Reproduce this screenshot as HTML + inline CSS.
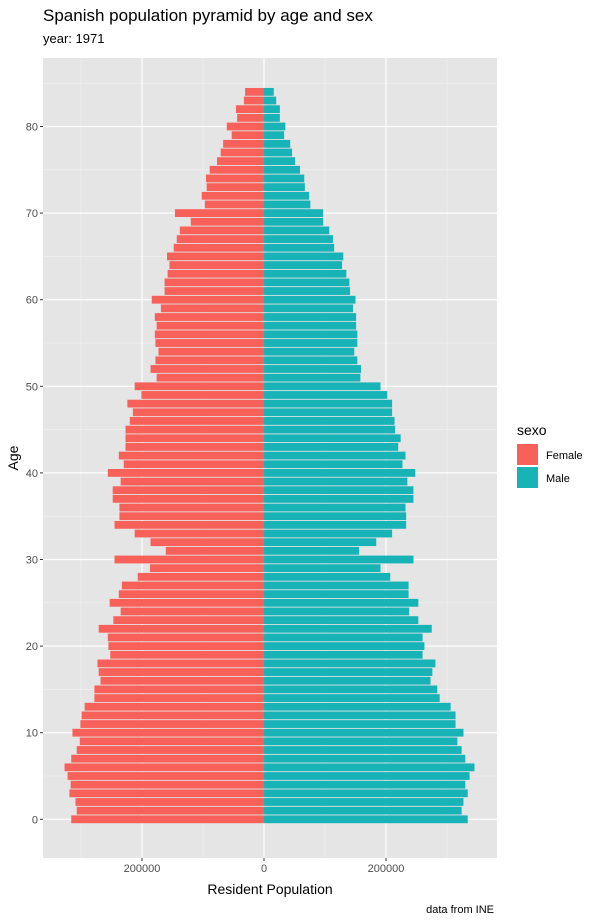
<!DOCTYPE html>
<html><head><meta charset="utf-8"><style>
body{margin:0;background:#fff;}
svg{display:block;font-family:"Liberation Sans",Arial,sans-serif;}
</style></head><body>
<svg id="chart" width="600" height="923" viewBox="0 0 600 923" xmlns="http://www.w3.org/2000/svg">
<text x="43" y="21" font-size="17" fill="#000">Spanish population pyramid by age and sex</text>
<text x="43" y="43" font-size="13" fill="#000">year: 1971</text>
<rect x="43" y="58" width="454" height="800" fill="#e5e5e5"/>
<g id="grid"></g>
<g id="bars"></g>
<g id="axes"></g>
<text transform="translate(18,458) rotate(-90)" text-anchor="middle" font-size="14" fill="#000">Age</text>
<text x="270" y="894" text-anchor="middle" font-size="14" fill="#000">Resident Population</text>
<text x="494" y="913" text-anchor="end" font-size="11" fill="#000">data from INE</text>
<g>
<text x="517" y="435" font-size="14" fill="#000">sexo</text>
<rect x="517" y="444" width="21" height="21" fill="#f8605a"/>
<text x="546" y="459" font-size="11" fill="#000">Female</text>
<rect x="517" y="467" width="21" height="21" fill="#17b3b7"/>
<text x="546" y="482" font-size="11" fill="#000">Male</text>
</g>
</svg>
<script>
const ages = [0,1,2,3,4,5,6,7,8,9,10,11,12,13,14,15,16,17,18,19,20,21,22,23,24,25,26,27,28,29,30,31,32,33,34,35,36,37,38,39,40,41,42,43,44,45,46,47,48,49,50,51,52,53,54,55,56,57,58,59,60,61,62,63,64,65,66,67,68,69,70,71,72,73,74,75,76,77,78,79,80,81,82,83,84];
const female = [316,307,309,319,317,322,327,316,307,302,314,301,299,294,278,278,268,271,273,252,255,256,271,247,235,253,238,233,207,187,245,161,186,212,245,237,237,248,248,235,256,230,238,227,227,227,220,215,224,201,212,176,186,178,173,178,179,176,179,169,184,163,163,158,155,159,148,143,138,120,146,97,102,94,95,89,77,71,67,53,61,44,46,33,31];
const male = [334,324,327,334,330,337,345,330,324,317,327,314,314,306,288,284,273,276,281,260,263,260,275,253,238,253,237,237,207,191,245,156,184,210,233,233,232,245,245,235,248,227,232,220,224,215,214,210,210,202,191,158,159,153,148,153,153,151,151,146,150,141,140,135,128,130,115,113,107,97,97,76,74,67,66,59,51,46,43,33,35,26,26,20,16];
const xTicks = [-200000,0,200000];
const xTickLabels = ["200000","0","200000"];
const yTicks = [0,10,20,30,40,50,60,70,80];

const NS="http://www.w3.org/2000/svg";
const x0=264, pxPer=122/200000;
const xs=v=>x0+v*pxPer;
const ys=a=>819.3-a*8.66;
const L=43,R=497,T=58,B=858;
function mk(tag,attrs,parent){const e=document.createElementNS(NS,tag);for(const k in attrs)e.setAttribute(k,attrs[k]);parent.appendChild(e);return e;}
const grid=document.getElementById('grid');
[-300000,-100000,100000,300000].forEach(v=>{const l=mk('line',{x1:xs(v),x2:xs(v),y1:T,y2:B,stroke:'#f2f2f2','stroke-width':0.6},grid);});
[5,15,25,35,45,55,65,75,85].forEach(a=>{if(ys(a)<T)return;const l=mk('line',{x1:L,x2:R,y1:ys(a),y2:ys(a),stroke:'#f2f2f2','stroke-width':0.6},grid);});
xTicks.forEach(v=>{const l=mk('line',{x1:xs(v),x2:xs(v),y1:T,y2:B,stroke:'#fff','stroke-width':1.2},grid);});
yTicks.forEach(a=>{const l=mk('line',{x1:L,x2:R,y1:ys(a),y2:ys(a),stroke:'#fff','stroke-width':1.2},grid);});
const bars=document.getElementById('bars');
const bh=7.8;
ages.forEach((a,i)=>{
  const f=female[i]*1000, m=male[i]*1000;
  const rf=mk('rect',{x:xs(-f),y:ys(a)-bh/2,width:xs(0)-xs(-f),height:bh,fill:'#f8605a'},bars);
  
  
  const rm=mk('rect',{x:xs(0),y:ys(a)-bh/2,width:xs(m)-xs(0),height:bh,fill:'#17b3b7'},bars);
  
  
});
const axes=document.getElementById('axes');
xTicks.forEach((v,i)=>{
  const t=mk('line',{x1:xs(v),x2:xs(v),y1:B,y2:B+3,stroke:'#333','stroke-width':1},axes);
  
  
  const tx=mk('text',{x:xs(v),y:B+14,'text-anchor':'middle','font-size':11,fill:'#4d4d4d'},axes);
  tx.textContent=xTickLabels[i];
  
  
});
yTicks.forEach(a=>{
  const t=mk('line',{x1:L-3,x2:L,y1:ys(a),y2:ys(a),stroke:'#333','stroke-width':1},axes);
  
  
  const tx=mk('text',{x:L-5,y:ys(a)+4,'text-anchor':'end','font-size':11,fill:'#4d4d4d'},axes);
  tx.textContent=String(a);
  
  
});
</script>
</body></html>
